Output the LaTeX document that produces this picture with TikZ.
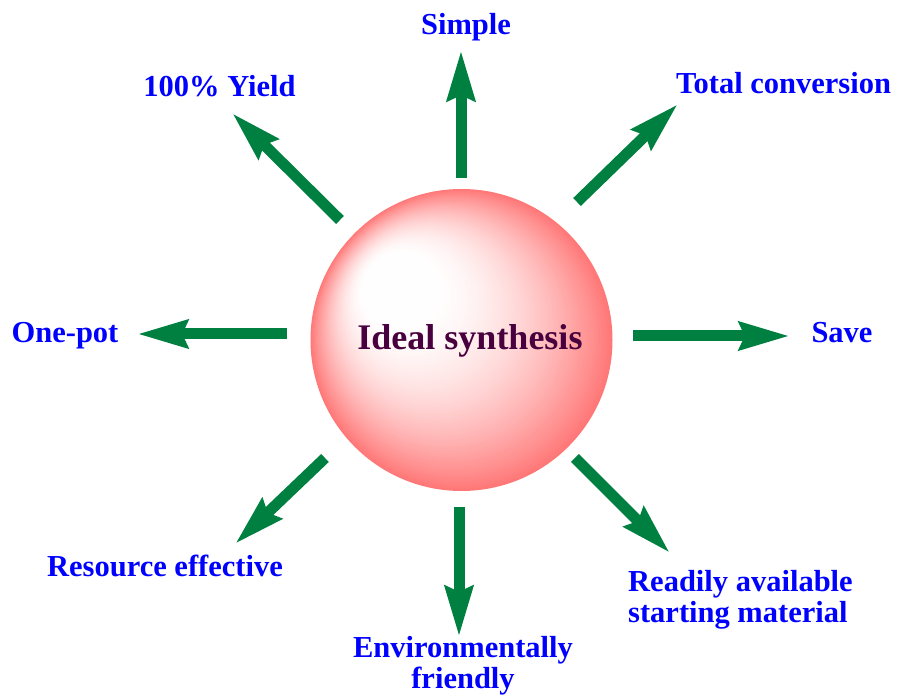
\documentclass[tikz,border=0pt]{standalone}
\usepackage{fontspec}
\setmainfont{Liberation Serif}
\usetikzlibrary{arrows.meta}
\definecolor{arrowgreen}{RGB}{0,128,64}
\definecolor{labelblue}{RGB}{0,0,255}
\definecolor{centerpurple}{RGB}{72,0,62}
\tikzset{
  x=1pt, y=1pt,
  fatarrow/.style={draw=arrowgreen, line width=11pt, line cap=butt,
    -{Stealth[length=50pt, width=27pt, inset=5pt]}},
  lbl/.style={text=labelblue, font=\fontsize{30.5}{31}\selectfont\bfseries, inner sep=0pt},
  ballnode/.style={circle, minimum size=302pt, inner sep=0pt},
  centerlbl/.style={text=centerpurple, font=\fontsize{36}{40}\selectfont\bfseries, inner sep=0pt}
}
\begin{document}
\begin{tikzpicture}
\useasboundingbox (0,0) rectangle (898,696);
\node[ballnode] (ball) at (461.5,356) {};
% eccentric radial shading of the ball: nested circles
\foreach \i in {0,...,89}{
  \pgfmathsetmacro\t{1-\i/90}
  \pgfmathsetmacro\f{pow(max(\t-0.22,0.0001)/0.78,1.7)}
  \pgfmathtruncatemacro\g{255-135*\f}
  \pgfmathsetmacro\r{151*\t}
  \pgfmathsetmacro\dx{-82*(1-\t)}
  \pgfmathsetmacro\dy{66*(1-\t)}
  \definecolor{ballshade}{RGB}{255,\g,\g}
  \fill[ballshade] ([shift={(\dx,\dy)}]ball.center) circle[radius=\r];
}
\node[centerlbl, anchor=base] (ideal) at (470,346) {Ideal synthesis};

% arrow end points
\coordinate (nS) at (461,518);   \coordinate (nT) at (461,646);
\coordinate (neS) at (577,494);  \coordinate (neT) at (678,592);
\coordinate (eS) at (633,360);   \coordinate (eT) at (790,360);
\coordinate (nwS) at (340,476);  \coordinate (nwT) at (232,583);
\coordinate (wS) at (287,362);   \coordinate (wT) at (137,362);
\coordinate (swS) at (325,238);  \coordinate (swT) at (235,152);
\coordinate (sS) at (459,189);   \coordinate (sT) at (459,59);
\coordinate (seS) at (575,238);  \coordinate (seT) at (670,143);

\draw[fatarrow] (nS) -- (nT);
\draw[fatarrow] (neS) -- (neT);
\draw[fatarrow] (eS) -- (eT);
\draw[fatarrow] (nwS) -- (nwT);
\draw[fatarrow] (wS) -- (wT);
\draw[fatarrow] (swS) -- (swT);
\draw[fatarrow] (sS) -- (sT);
\draw[fatarrow] (seS) -- (seT);

\node[lbl, anchor=base] (simple) at (466,661) {Simple};
\node[lbl, anchor=base] (yield) at (219.5,599) {100\% Yield};
\node[lbl, anchor=base] (total) at (783.5,602) {Total conversion};
\node[lbl, anchor=base] (onepot) at (65,353) {One-pot};
\node[lbl, anchor=base] (save) at (842,353) {Save};
\node[lbl, anchor=base] (resource) at (165,119) {Resource effective};
\node[lbl, anchor=base, align=center] (env) at (463,7) {Environmentally\\friendly};
\node[lbl, anchor=base west, align=left] (ready) at (628,73) {Readily available\\starting material};
\end{tikzpicture}
\end{document}
